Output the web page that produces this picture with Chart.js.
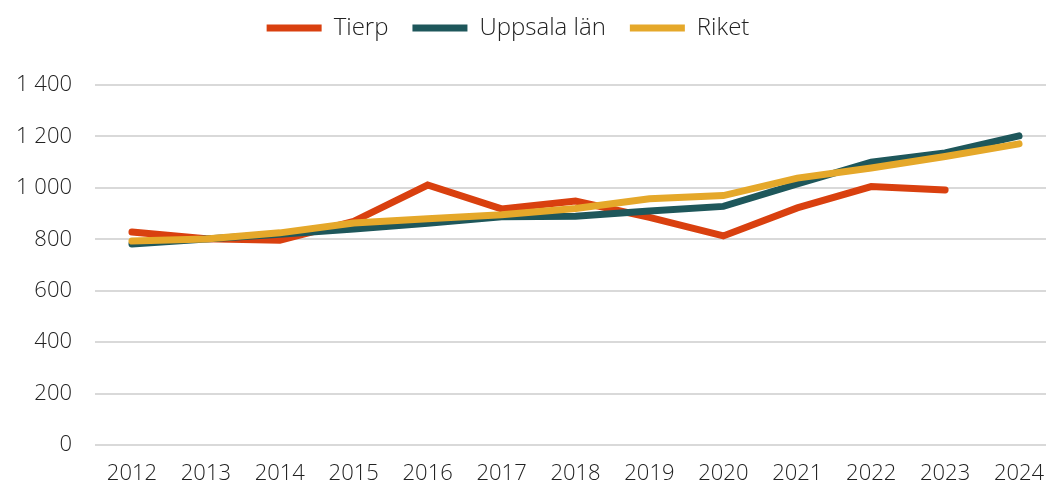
<!DOCTYPE html>
<html lang="sv">
<head>
<meta charset="UTF-8">
<title>Tierp, Uppsala län, Riket</title>
<style>
  html, body { margin: 0; padding: 0; background: #fff; overflow: hidden; }
  #wrap { width: 1056px; height: 486px; }
</style>
<script src="https://cdn.jsdelivr.net/npm/chart.js"></script>
</head>
<body>
<div id="wrap"><canvas id="chart"></canvas></div>
<script>
  // Data
  const years = ['2012','2013','2014','2015','2016','2017','2018','2019','2020','2021','2022','2023','2024'];
  const tierp   = [828, 802, 796, 870, 1011, 918, 949, 885, 813, 922, 1005, 992, null];
  const uppsala = [782, 801, 820, 840, 862, 888, 890, 910, 928, 1015, 1100, 1136, 1202];
  const riket   = [793, 801, 825, 863, 880, 895, 920, 958, 970, 1038, 1077, 1122, 1171];

  const fontFam = "'Open Sans', 'Lato', sans-serif";

  function serie(label, data, color, order) {
    return {
      label: label,
      data: data,
      order: order,
      borderColor: color,
      backgroundColor: color,
      borderWidth: 7,
      borderCapStyle: 'round',
      borderJoinStyle: 'miter',
      pointRadius: 0,
      pointHoverRadius: 0,
      tension: 0
    };
  }

  // legendens höjd och position
  const legendPlacering = {
    id: 'legendPlacering',
    beforeInit(chart) {
      const fit = chart.legend.fit;
      chart.legend.fit = function () {
        fit.call(this);
        this.height = 85;
      };
    },
    afterLayout(chart) {
      const l = chart.legend;
      l.top -= 8; l.bottom -= 8;
      l.left -= 20; l.right -= 20;
    }
  };

  new Chart(document.getElementById('chart'), {
    type: 'line',
    data: {
      labels: years,
      datasets: [
        serie('Tierp', tierp, '#D9400F', 3),
        serie('Uppsala län', uppsala, '#1E575B', 2),
        serie('Riket', riket, '#E5A82A', 1)
      ]
    },
    plugins: [legendPlacering],
    options: {
      responsive: true,
      maintainAspectRatio: false,
      animation: false,
      layout: { padding: 0 },
      plugins: {
        tooltip: { enabled: false },
        legend: {
          position: 'top',
          labels: {
            usePointStyle: true,
            pointStyle: 'line',
            pointStyleWidth: 55,
            color: '#222',
            font: { family: fontFam, size: 24, weight: 300 },
            padding: 24,
            sort: (a, b) => a.datasetIndex - b.datasetIndex
          }
        }
      },
      scales: {
        x: {
          offset: true,
          afterFit: s => { s.height = 41; },
          grid: { display: false },
          border: { display: false },
          ticks: {
            color: '#222',
            font: { family: fontFam, size: 22, weight: 300 },
            padding: 8,
            maxRotation: 0
          }
        },
        y: {
          min: 0,
          max: 1400,
          afterFit: s => { s.width = 95; },
          grid: { color: '#d9d9d9', lineWidth: 2, drawTicks: false },
          border: { display: false },
          ticks: {
            stepSize: 200,
            padding: 23,
            color: '#222',
            font: { family: fontFam, size: 22, weight: 300 },
            callback: v => v.toString().replace(/\B(?=(\d{3})+(?!\d))/g, ' ')
          }
        }
      }
    }
  });
</script>
</body>
</html>
